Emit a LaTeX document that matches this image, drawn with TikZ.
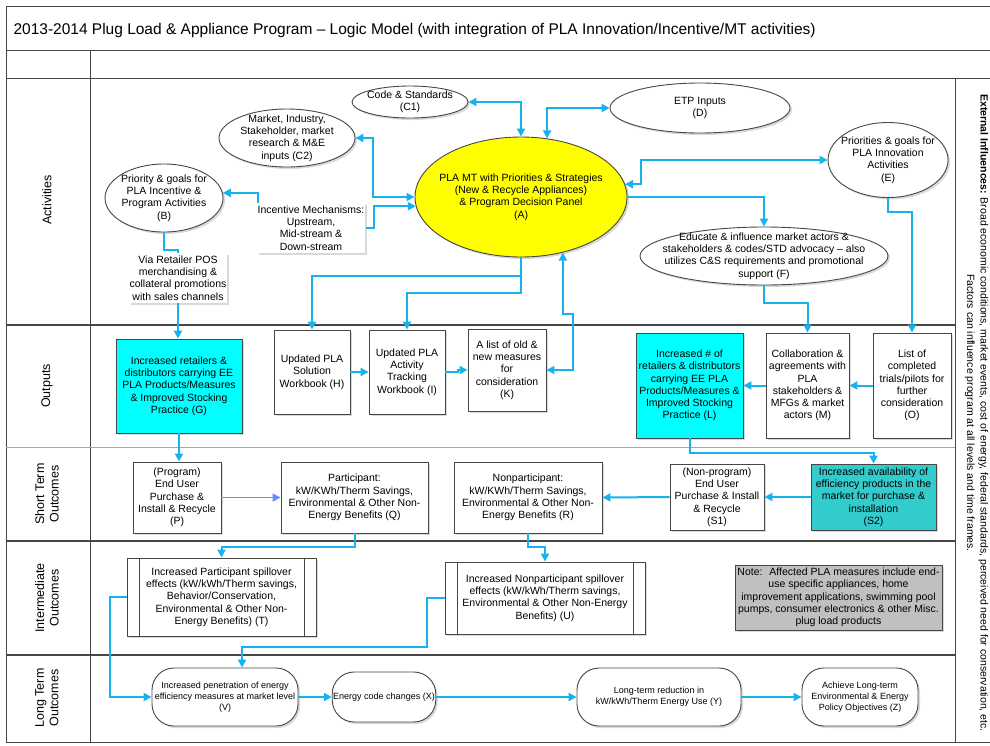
\documentclass[tikz,border=0pt]{standalone}
\usepackage{fontspec}
\setmainfont{Liberation Sans}
\usetikzlibrary{shapes.geometric,arrows.meta,shadows}
\definecolor{flowblue}{RGB}{22,178,240}
\definecolor{stepblue}{RGB}{98,142,255}
\definecolor{rimgray}{RGB}{70,70,70}
\definecolor{cyanbox}{RGB}{0,255,255}
\definecolor{tealbox}{RGB}{51,204,204}
\definecolor{notegray}{RGB}{192,192,192}
\definecolor{panelyellow}{RGB}{255,255,0}
\tikzset{
  box/.style={draw=rimgray, fill=white, line width=0.9pt, align=center, inner sep=1pt,
    font=\fontsize{10.5}{12.3}\selectfont,
    drop shadow={shadow xshift=2pt, shadow yshift=-2pt, opacity=0.3}},
  plain/.style={box, draw=none},
  oval/.style={box, ellipse, inner xsep=-25pt, inner ysep=-10pt},
  proc/.style={box, path picture={
    \draw[rimgray, line width=0.9pt]
      ([xshift=12pt]path picture bounding box.north west) -- ([xshift=12pt]path picture bounding box.south west)
      ([xshift=-12pt]path picture bounding box.north east) -- ([xshift=-12pt]path picture bounding box.south east);}},
  term/.style={box, rounded corners=22pt, font=\fontsize{9}{11}\selectfont},
  rowlabel/.style={rotate=90, align=center, font=\fontsize{12.5}{14.5}\selectfont},
  frame/.style={draw=rimgray, line width=1pt},
}
\begin{document}
\begin{tikzpicture}[x=1pt, y=-1pt, >={Triangle[length=8pt,width=8pt]},
  flow/.style={draw=flowblue, line width=2pt, ->},
  flow2/.style={draw=flowblue, line width=2pt, <->},
  link/.style={draw=flowblue, line width=2pt}]
\useasboundingbox (0,0) rectangle (990,745);

% table frame
\draw[frame] (6,6) -- (990,6);
\draw[frame] (6,6) -- (6,742) -- (990,742);
\draw[frame] (6,50) -- (990,50);
\draw[frame] (6,78) -- (990,78);
\draw[frame] (90,50) -- (90,742);
\draw[frame] (955,78) -- (955,742);
\draw[frame, line width=1.4pt] (6,325) -- (955,325);
\draw[frame, draw=gray!70] (6,447) -- (955,447);
\draw[frame, line width=1.4pt] (6,541) -- (955,541);
\draw[frame, line width=1.4pt] (6,655) -- (955,655);

\node[anchor=west, font=\fontsize{15.5}{18}\selectfont] (title) at (10,30)
  {2013-2014 Plug Load \& Appliance Program -- Logic Model (with integration of PLA Innovation/Incentive/MT activities)};

\node[rowlabel] (labAct) at (47,200) {Activities};
\node[rowlabel] (labOut) at (47,386) {Outputs};
\node[rowlabel] (labShort) at (47,494) {Short Term\\Outcomes};
\node[rowlabel] (labInter) at (47,598) {Intermediate\\Outcomes};
\node[rowlabel] (labLong) at (47,698) {Long Term\\Outcomes};

\node[rotate=-90, align=center, inner sep=0pt, font=\fontsize{10.5}{13.5}\selectfont] (ext) at (976.5,413)
  {\textbf{External Influences:} Broad economic conditions, market events, cost of energy, federal standards, perceived need for conservation, etc.\\
   Factors can influence program at all levels and time frames.};

% activities
\node[oval, minimum width=116pt, minimum height=32pt] (C1) at (410,102) {Code \& Standards\\(C1)};
\node[oval, minimum width=180pt, minimum height=50pt] (D) at (700,108) {ETP Inputs\\(D)};
\node[oval, minimum width=136pt, minimum height=58pt] (C2) at (287,138) {Market, Industry,\\Stakeholder, market\\research \& M\&E\\inputs (C2)};
\node[oval, minimum width=118pt, minimum height=68pt] (B) at (164,198) {Priority \& goals for\\PLA Incentive \&\\Program Activities\\(B)};
\node[plain, minimum width=107pt, minimum height=50pt] (Inc) at (311,228) {Incentive Mechanisms:\\Upstream,\\Mid-stream \&\\Down-stream};
\node[plain, minimum width=97pt, minimum height=50pt] (Via) at (178,278) {Via Retailer POS\\merchandising \&\\collateral promotions\\with sales channels};
\node[oval, fill=panelyellow, minimum width=212pt, minimum height=120pt] (A) at (521,197) {PLA MT with Priorities \& Strategies\\(New \& Recycle Appliances)\\\& Program Decision Panel\\(A)};
\node[oval, minimum width=120pt, minimum height=75pt] (E) at (888,160) {Priorities \& goals for\\PLA Innovation\\Activities\\(E)};
\node[oval, minimum width=248pt, minimum height=58pt] (F) at (764,256) {Educate \& influence market actors \&\\stakeholders \& codes/STD advocacy -- also\\utilizes C\&S requirements and promotional\\support (F)};

% outputs
\node[box, fill=cyanbox, minimum width=126pt, minimum height=94pt] (G) at (179,386) {Increased retailers \&\\distributors carrying EE\\PLA Products/Measures\\\& Improved Stocking\\Practice (G)};
\node[box, minimum width=76pt, minimum height=84pt] (H) at (312,372) {Updated PLA\\Solution\\Workbook (H)};
\node[box, minimum width=76pt, minimum height=84pt] (I) at (407,372) {Updated PLA\\Activity\\Tracking\\Workbook (I)};
\node[box, minimum width=78pt, minimum height=82pt] (K) at (507,370) {A list of old \&\\new measures\\for\\consideration\\(K)};
\node[box, fill=cyanbox, minimum width=107pt, minimum height=105pt] (L) at (689.5,385.5) {Increased \# of\\retailers \& distributors\\carrying EE PLA\\Products/Measures \&\\Improved Stocking\\Practice (L)};
\node[box, minimum width=83pt, minimum height=105pt] (M) at (807.5,385.5) {Collaboration \&\\agreements with\\PLA\\stakeholders \&\\MFGs \& market\\actors (M)};
\node[box, minimum width=78pt, minimum height=105pt] (O) at (912,385.5) {List of\\completed\\trials/pilots for\\further\\consideration\\(O)};

% short term outcomes
\node[box, minimum width=88pt, minimum height=71pt] (P) at (177,497.5) {(Program)\\End User\\Purchase \&\\Install \& Recycle\\(P)};
\node[box, minimum width=147pt, minimum height=71pt] (Q) at (354.5,497.5) {Participant:\\kW/KWh/Therm Savings,\\Environmental \& Other Non-\\Energy Benefits (Q)};
\node[box, minimum width=148pt, minimum height=71pt] (R) at (528,497.5) {Nonparticipant:\\kW/KWh/Therm Savings,\\Environmental \& Other Non-\\Energy Benefits (R)};
\node[box, minimum width=94pt, minimum height=66pt] (S1) at (717,497) {(Non-program)\\End User\\Purchase \& Install\\\& Recycle\\(S1)};
\node[box, fill=tealbox, minimum width=125pt, minimum height=66pt] (S2) at (873.5,497) {Increased availability of\\efficiency products in the\\market for purchase \&\\installation\\(S2)};

% intermediate outcomes
\node[proc, minimum width=189pt, minimum height=78pt] (T) at (221.5,597) {Increased Participant spillover\\effects (kW/kWh/Therm savings,\\Behavior/Conservation,\\Environmental \& Other Non-\\Energy Benefits) (T)};
\node[proc, minimum width=200pt, minimum height=72pt] (U) at (545,598) {Increased Nonparticipant spillover\\effects (kW/kWh/Therm savings,\\Environmental \& Other Non-Energy\\Benefits) (U)};
\node[box, fill=notegray, minimum width=207pt, minimum height=65pt] (Note) at (838.5,597.5) {Note:~ Affected PLA measures include end-\\use specific appliances, home\\improvement applications, swimming pool\\pumps, consumer electronics \& other Misc.\\plug load products};

% long term outcomes
\node[term, minimum width=146pt, minimum height=58pt] (V) at (225,697) {Increased penetration of energy\\efficiency measures at market level\\(V)};
\node[term, minimum width=98pt, minimum height=50pt] (X) at (384,697) {Energy code changes (X)};
\node[term, minimum width=164pt, minimum height=58pt] (Y) at (659,697) {Long-term reduction in\\kW/kWh/Therm Energy Use (Y)};
\node[term, minimum width=116pt, minimum height=58pt] (Z) at (860,697) {Achieve Long-term\\Environmental \& Energy\\Policy Objectives (Z)};

% connectors, activities
\draw[flow2] (C1.east) -| (A.north);
\draw[flow2] (D.west) -| (A.66);
\draw[flow2] (C2.east) -- ++(18,0) |- (A.west);
\draw[flow] (Inc.east) -- ++(8,0) |- (A.185);
\draw[flow] ([xshift=2pt]Inc.north west) |- (B.5);
\draw[link] (B.south) -- ++(0,18) -| (Via.north);
\draw[flow] (Via.south) -- (Via.south |- G.north);
\draw[flow2] (A.7) -- ++(16,0) |- (E.west);
\draw[flow] (A.east) -| (F.north);
\draw[flow] (F.south) -- ++(0,18) -| (M.north);
\draw[flow] (E.south) -- ++(0,14) -| (O.north);
\draw[flow] (A.south) -- ++(0,19) -| (H.north);
\draw[flow] (A.south) -- ++(0,36) -| (I.north);
\draw[flow2] (K.east) -| ++(27,-56) -| (A.-53);

% connectors, outputs and outcomes
\draw[flow] (H.east) -- (I.west);
\draw[flow] (I.east) -- ++(13,0) |- (K.west);
\draw[flow] (M.west) -- (L.east);
\draw[flow] (O.west) -- (M.east);
\draw[flow] (L.south) -- ++(0,15) -| (S2.north);
\draw[flow] (G.south) -- (G.south |- P.north);
\draw[->, draw=stepblue, line width=1.4pt] (P.east) -- (Q.west);
\draw[flow] (S2.west) -- (S1.east);
\draw[flow] (S1.west) -- (R.east);
\draw[flow] (Q.south) -- ++(0,14) -| (T.north);
\draw[flow] (R.south) -- ++(0,14) -| (U.north);
\draw[flow] (T.west) -- ++(-17,0) |- (V.west);
\draw[flow] (U.west) -- ++(-18,0) -- ++(0,49) -| ([xshift=17pt]V.north);
\draw[flow] (V.east) -- (X.west);
\draw[flow] (X.east) -- (Y.west);
\draw[flow] (Y.east) -- (Z.west);
\end{tikzpicture}
\end{document}
